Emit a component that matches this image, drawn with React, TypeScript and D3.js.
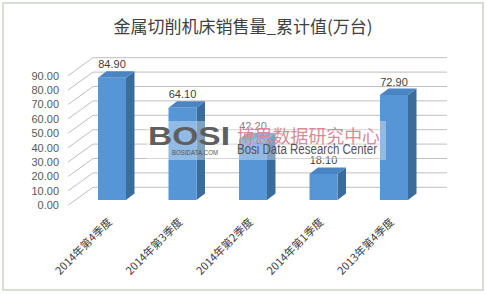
import React from "react";
import * as d3 from "d3";

const title = "金属切削机床销售量_累计值(万台)";
const categories = ["2014年第4季度", "2014年第3季度", "2014年第2季度", "2014年第1季度", "2013年第4季度"];
const values = [84.9, 64.1, 42.2, 18.1, 72.9];
const yTicks = [0, 10, 20, 30, 40, 50, 60, 70, 80, 90];

const W = 486;
const H = 294;
// back wall geometry
const xWallFront = 68;
const xWallBack = 93;
const xWallRight = 447;
const wallDx = xWallBack - xWallFront;
const wallDy = 18;
// bar geometry
const barOffsetY = 12.7;
const barW = 28;
const depthDx = 8.5;
const depthDy = 6.5;

export default function App() {
  const yBack = d3.scaleLinear().domain([0, 90]).range([187.3, 57.7]);
  const xPos = d3.scalePoint<string>().domain(categories).range([76.75, 429.25]).padding(0.5);

  const font = "'Liberation Sans', Arial, sans-serif";
  const cjk = "'Noto Sans CJK SC', 'Liberation Sans', sans-serif";

  return (
    <svg width={W} height={H} style={{ position: "absolute", left: 0, top: 0, background: "#fff" }}>
      <rect x={3} y={3} width={480} height={287} fill="#fff" stroke="#d5ddd5" strokeWidth={2} />
      <text x={243} y={33} textAnchor="middle" fontFamily={cjk} fontSize={17} fill="#404040">
        {title}
      </text>

      {yTicks.map((t) => {
        const yb = yBack(t);
        return (
          <g key={t}>
            <line x1={xWallFront} y1={yb + wallDy} x2={xWallBack} y2={yb} stroke="#bfbfbf" strokeWidth={1} />
            <line x1={xWallBack} y1={yb} x2={xWallRight} y2={yb} stroke="#bfbfbf" strokeWidth={1} />
            <text x={59} y={yb + wallDy} dy="0.35em" textAnchor="end" fontFamily={font} fontSize={11} fill="#595959">
              {t.toFixed(2)}
            </text>
          </g>
        );
      })}

      {categories.map((c, i) => {
        const cx = xPos(c) as number;
        const x0 = cx - barW / 2;
        const x1 = cx + barW / 2;
        const yb0 = yBack(0) + barOffsetY;
        const yt = yBack(values[i]) + barOffsetY;
        const front = `M${x0},${yt}L${x1},${yt}L${x1},${yb0}L${x0},${yb0}Z`;
        const side = `M${x1},${yt}L${x1 + depthDx},${yt - depthDy}L${x1 + depthDx},${yb0 - depthDy}L${x1},${yb0}Z`;
        const top = `M${x0},${yt}L${x0 + depthDx},${yt - depthDy}L${x1 + depthDx},${yt - depthDy}L${x1},${yt}Z`;
        return (
          <g key={c}>
            <path d={side} fill="#3b6d9c" />
            <path d={top} fill="#4a84c2" />
            <path d={front} fill="#5796d6" />
            <text x={cx} y={yt - depthDy - 3} textAnchor="middle" fontFamily={font} fontSize={11} fill="#404040">
              {values[i].toFixed(2)}
            </text>
            <text
              transform={`translate(${cx - 2},${220}) rotate(-45)`}
              textAnchor="end"
              dy="0.35em"
              fontFamily={cjk}
              fontSize={11}
              fill="#404040"
            >
              {c}
            </text>
          </g>
        );
      })}

      {/* watermark */}
      <g>
        <rect x={146} y={121} width={240} height={39} fill="#fff" opacity={0.35} />
        <text x={148} y={145} fontFamily={font} fontWeight="bold" fontSize={25} fill="#5f5f5f" textLength={82} lengthAdjust="spacingAndGlyphs">
          BOSI
        </text>
        <text x={172} y={155} fontFamily={font} fontSize={7} fill="#555" textLength={46} lengthAdjust="spacingAndGlyphs">
          BOSIDATA.COM
        </text>
        <text x={237} y={143} fontFamily={cjk} fontSize={18} fill="#d98a98" textLength={143} lengthAdjust="spacingAndGlyphs">
          博思数据研究中心
        </text>
        <text x={237} y={154} fontFamily={font} fontSize={14} fill="#555" textLength={140} lengthAdjust="spacingAndGlyphs">
          Bosi Data Research Center
        </text>
      </g>
    </svg>
  );
}
